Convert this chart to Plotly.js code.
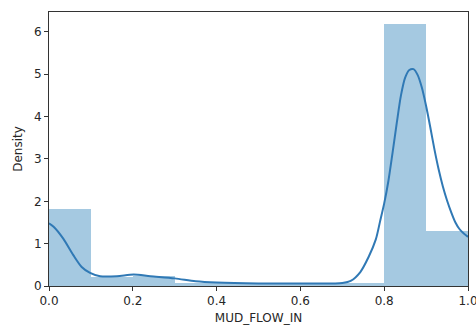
<!DOCTYPE html>
<html>
<head>
<meta charset="utf-8">
<script src="https://cdn.plot.ly/plotly-3.0.1.min.js"></script>
<style>
  html, body { margin: 0; padding: 0; background: #ffffff; }
  #chart { width: 476px; height: 329px; }
</style>
</head>
<body>
<div id="chart"></div>
<script>
// Histogram of MUD_FLOW_IN (density-normalised, 10 bins of width 0.1)
const binCenters = [0.05, 0.15, 0.25, 0.35, 0.45, 0.55, 0.65, 0.75, 0.85, 0.95];
const binDensity = [1.82, 0.22, 0.24, 0.07, 0.06, 0.06, 0.06, 0.07, 6.18, 1.30];
const binWidth = 0.1;

// Kernel density estimate of the same column
const kdeX = [0.0, 0.011, 0.034, 0.058, 0.078, 0.098, 0.122, 0.162, 0.202, 0.242, 0.3, 0.35,
              0.4, 0.5, 0.6, 0.68, 0.7, 0.72, 0.743, 0.763,
              0.78, 0.79, 0.80, 0.81, 0.82, 0.83, 0.84, 0.85, 0.86, 0.87, 0.88, 0.89,
              0.90, 0.91, 0.92, 0.93, 0.94, 0.95, 0.96, 0.97, 0.98, 0.99, 1.0];
const kdeY = [1.48, 1.40, 1.12, 0.73, 0.45, 0.31, 0.23, 0.23, 0.27, 0.23, 0.18, 0.11,
              0.08, 0.06, 0.06, 0.06, 0.07, 0.12, 0.33, 0.69,
              1.10, 1.52, 1.95, 2.48, 3.15, 3.85, 4.50, 4.92, 5.10, 5.12, 4.98, 4.68,
              4.25, 3.75, 3.22, 2.75, 2.35, 2.02, 1.74, 1.50, 1.34, 1.24, 1.16];

const xTicks = [0.0, 0.2, 0.4, 0.6, 0.8, 1.0];
const yTicks = [0, 1, 2, 3, 4, 5, 6];

const traces = [
  {
    type: 'bar',
    x: binCenters,
    y: binDensity,
    width: binWidth,
    marker: { color: 'rgba(31,119,180,0.4)', line: { width: 0 } },
    hoverinfo: 'skip'
  },
  {
    type: 'scatter',
    mode: 'lines',
    x: kdeX,
    y: kdeY,
    line: { color: '#3079b5', width: 2, shape: 'spline', smoothing: 0.8 },
    hoverinfo: 'skip'
  }
];

const axisCommon = {
  showline: true,
  mirror: true,
  linecolor: '#333333',
  linewidth: 1,
  ticks: 'outside',
  ticklen: 4,
  tickwidth: 1,
  tickcolor: '#333333',
  showgrid: false,
  zeroline: false,
  ticklabeloverflow: 'allow',
  tickfont: { family: 'DejaVu Sans', size: 12, color: '#262626' }
};

const layout = {
  width: 476,
  height: 329,
  margin: { l: 49, r: 8, t: 12, b: 43 },
  paper_bgcolor: '#ffffff',
  plot_bgcolor: '#ffffff',
  showlegend: false,
  bargap: 0,
  xaxis: Object.assign({}, axisCommon, {
    range: [0, 1],
    tickvals: xTicks,
    ticktext: xTicks.map(v => v.toFixed(1)),
    title: { text: 'MUD_FLOW_IN', font: { family: 'DejaVu Sans', size: 12, color: '#262626' }, standoff: 6 }
  }),
  yaxis: Object.assign({}, axisCommon, {
    range: [0, 6.47],
    tickvals: yTicks,
    ticktext: yTicks.map(String),
    title: { text: 'Density', font: { family: 'DejaVu Sans', size: 12, color: '#262626' }, standoff: 8 }
  })
};

Plotly.newPlot('chart', traces, layout, { displayModeBar: false, staticPlot: true });
</script>
</body>
</html>
